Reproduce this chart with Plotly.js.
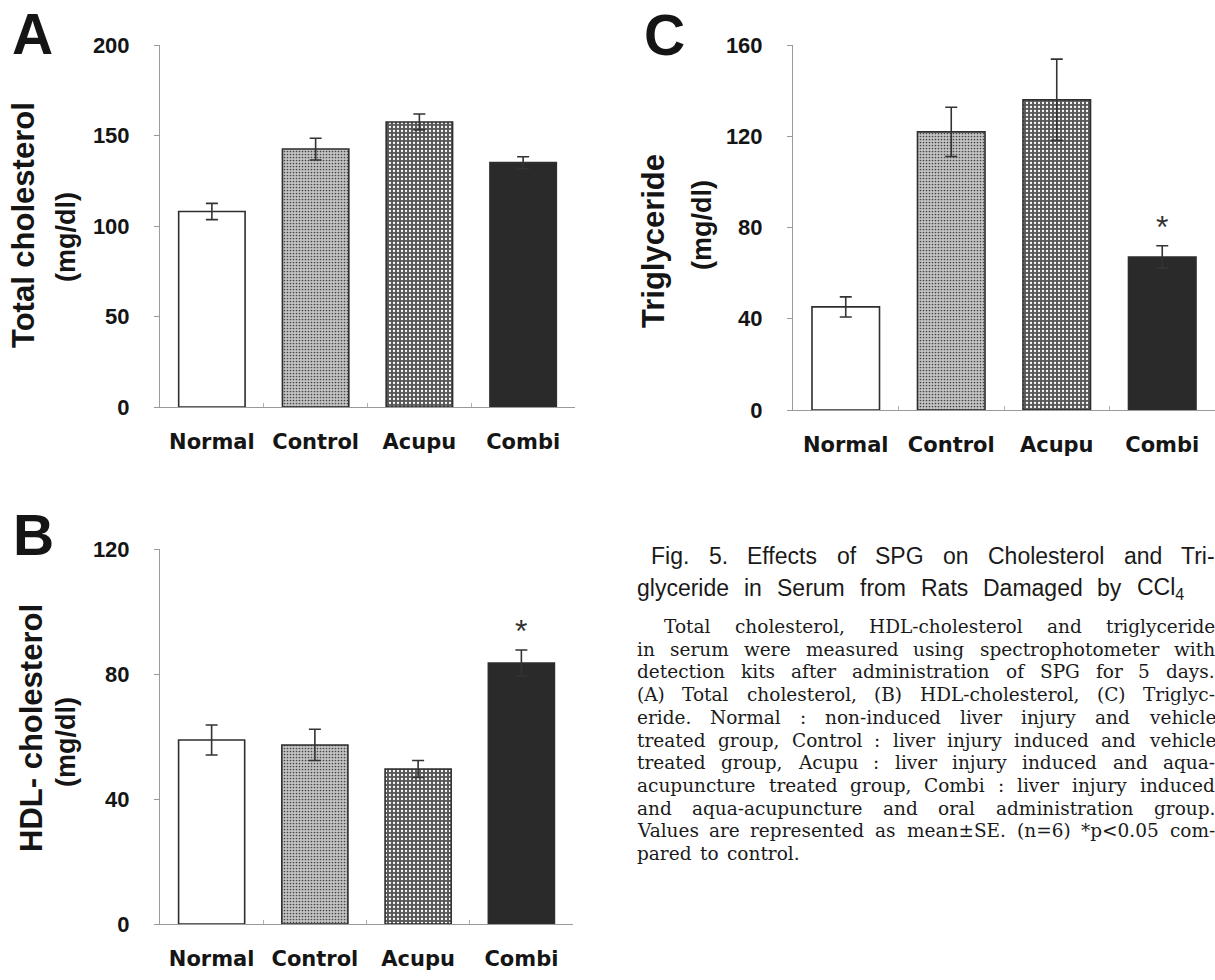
<!DOCTYPE html>
<html><head><meta charset="utf-8">
<script src="https://cdn.plot.ly/plotly-3.0.1.min.js"></script>
<style>html,body{margin:0;padding:0;background:#fff}#chart{width:1215px;height:980px}</style>
</head><body><div id="chart"></div>
<script>
// ---------- data ----------
const groups = ['Normal', 'Control', 'Acupu', 'Combi'];
const totalChol = [108, 142.5, 157.5, 135];
const totalCholErr = [4.5, 6, 4.4, 3.3];
const hdlChol = [58.9, 57.3, 49.6, 83.5];
const hdlCholErr = [4.8, 5, 2.7, 4.2];
const triglyceride = [45.2, 121.9, 136, 67.1];
const triglycerideErr = [4.4, 10.8, 17.8, 4.9];
const sigA = ['', '', '', ''];
const sigB = ['', '', '', '*'];
const sigC = ['', '', '', '*'];
const yTicksA = [0, 50, 100, 150, 200];
const yTicksB = [0, 40, 80, 120];
const yTicksC = [0, 40, 80, 120, 160];
const captionTitle = [
  'Fig. 5. Effects of SPG on Cholesterol and Tri-',
  'glyceride in Serum from Rats Damaged by CCl4'
];
const captionBody = [
  'Total cholesterol, HDL-cholesterol and triglyceride',
  'in serum were measured using spectrophotometer with',
  'detection kits after administration of SPG for 5 days.',
  '(A) Total cholesterol, (B) HDL-cholesterol, (C) Triglyc-',
  'eride. Normal : non-induced liver injury and vehicle',
  'treated group, Control : liver injury induced and vehicle',
  'treated group, Acupu : liver injury induced and aqua-',
  'acupuncture treated group, Combi : liver injury induced',
  'and aqua-acupuncture and oral administration group.',
  'Values are represented as mean\u00b1SE. (n=6) *p<0.05 com-',
  'pared to control.'
];

// ---------- helpers ----------
const W = 1215, H = 980;
const px = v => v / W;
const py = v => 1 - v / H;
const TXT = '#151515';

const style = {
  fills:  ['#ffffff', '#c4c4c4', '#575757', '#2a2a2a'],
  shapes: ['', '.', '.', ''],
  fgs:    ['#ffffff', '#b2b2b2', '#cfcfcf', '#2a2a2a'],
  psize:  [8, 3, 4, 8],
  psol:   [0.3, 0.25, 0.26, 0.3]
};

function barTrace(vals, errs, xa, ya) {
  return {
    type: 'bar', x: groups, y: vals, xaxis: xa, yaxis: ya, width: 0.64,
    marker: {
      color: style.fills,
      line: {color: '#2e2e2e', width: 1.6},
      pattern: {shape: style.shapes, fgcolor: style.fgs, fgopacity: 1,
                size: style.psize, solidity: style.psol, fillmode: 'overlay'}
    },
    error_y: {type: 'data', array: errs, visible: true, color: '#333', thickness: 1.6, width: 6},
    hoverinfo: 'skip', showlegend: false
  };
}

function xAxis(domain, anchor) {
  return {
    domain: domain, anchor: anchor, type: 'category', range: [-0.5, 3.5],
    showline: true, linecolor: '#9a9a9a', linewidth: 1,
    ticks: 'inside', tickson: 'boundaries', ticklen: 4, tickcolor: '#b0b0b0', tickwidth: 1,
    showgrid: false, zeroline: false, fixedrange: true,
    tickfont: {family: 'DejaVu Sans', size: 21, weight: 'bold', color: TXT},
    ticklabelstandoff: 16
  };
}
function yAxis(domain, anchor, range, ticks) {
  return {
    domain: domain, anchor: anchor, range: range, autorange: false,
    tickmode: 'array', tickvals: ticks, ticktext: ticks.map(String),
    showline: true, linecolor: '#9a9a9a', linewidth: 1,
    ticks: 'outside', ticklen: 5, tickcolor: '#9a9a9a', tickwidth: 1,
    showgrid: false, zeroline: false, fixedrange: true,
    tickfont: {family: 'Liberation Sans', size: 22, weight: 'bold', color: TXT},
    ticklabelstandoff: 20
  };
}

const data = [
  barTrace(totalChol, totalCholErr, 'x', 'y'),
  barTrace(hdlChol, hdlCholErr, 'x2', 'y2'),
  barTrace(triglyceride, triglycerideErr, 'x3', 'y3')
];

const annotations = [];
function label(text, x, y, size, opts) {
  annotations.push(Object.assign({
    xref: 'paper', yref: 'paper', x: px(x), y: py(y), text: text, showarrow: false,
    xanchor: 'center', yanchor: 'middle', borderpad: 0,
    font: {family: 'Liberation Sans', size: size, weight: 'bold', color: TXT}
  }, opts || {}));
}
// panel letters
label('A', 32, 34, 57);
label('B', 33, 535, 57);
label('C', 664, 35, 57);
// y titles
label('Total cholesterol', 24, 225, 31, {textangle: -90});
label('(mg/dl)', 66, 237, 27, {textangle: -90});
label('HDL- cholesterol', 31, 728, 31, {textangle: -90});
label('(mg/dl)', 66, 742, 27, {textangle: -90});
label('Triglyceride', 654, 241, 31, {textangle: -90});
label('(mg/dl)', 702, 225, 27, {textangle: -90});

// significance stars
function stars(sig, vals, errs, xr, yr) {
  sig.forEach((s, i) => {
    if (!s) return;
    annotations.push({xref: xr, yref: yr, x: groups[i], y: vals[i] + errs[i], text: s,
      showarrow: false, xanchor: 'center', yanchor: 'bottom', yshift: 0, borderpad: 0,
      font: {family: 'Liberation Sans', size: 32, color: '#333'}});
  });
}
stars(sigA, totalChol, totalCholErr, 'x', 'y');
stars(sigB, hdlChol, hdlCholErr, 'x2', 'y2');
stars(sigC, triglyceride, triglycerideErr, 'x3', 'y3');

// caption, word by word, justified
const ctx = document.createElement('canvas').getContext('2d');
function measure(t, family, size) {
  ctx.font = size + 'px "' + family + '"';
  if (t === 'CCl4') { return ctx.measureText('CCl').width + 0.7 * ctx.measureText('4').width; }
  return ctx.measureText(t).width;
}
function display(w) {
  if (w === 'CCl4') return 'CCl<sub>4</sub>';
  return w.replace(/&/g, '&amp;').replace(/</g, '&lt;').replace(/>/g, '&gt;');
}
function placeLine(text, left, right, baseline, family, size, justify, color) {
  const words = text.split(' ');
  let s = size, widths, total, gap;
  const calc = () => {
    widths = words.map(w => measure(w, family, s));
    total = widths.reduce((a, b) => a + b, 0);
    gap = (justify && words.length > 1) ? (right - left - total) / (words.length - 1)
                                        : measure(' ', family, s) * 1.4;
  };
  calc();
  while (justify && gap < 0.2 * s && s > 10) { s -= 0.5; calc(); }
  let x = left;
  words.forEach((w, i) => {
    annotations.push({xref: 'paper', yref: 'paper', x: px(x), y: py(baseline - 0.3465 * s),
      xanchor: 'left', yanchor: 'middle', text: display(w), showarrow: false, borderpad: 0,
      font: {family: family, size: s, color: color}});
    x += widths[i] + gap;
  });
}
placeLine(captionTitle[0], 650, 1214, 564, 'Liberation Sans', 23, true, '#1a1a1a');
placeLine(captionTitle[1], 636, 1183, 596, 'Liberation Sans', 23, true, '#1a1a1a');
captionBody.forEach((line, i) => {
  const left = i === 0 ? 663 : 636;
  const last = i === captionBody.length - 1;
  placeLine(line, left, 1214, 633 + i * 22.7, 'DejaVu Serif', 18.5, !last, '#1a1a1a');
});

const layout = {
  width: W, height: H, margin: {l: 0, r: 0, t: 0, b: 0},
  paper_bgcolor: '#ffffff', plot_bgcolor: 'rgba(0,0,0,0)',
  showlegend: false, bargap: 0.36,
  xaxis:  xAxis([px(160), px(575)], 'y'),
  yaxis:  yAxis([py(407), py(45)], 'x', [0, 200], yTicksA),
  xaxis2: xAxis([px(160), px(573)], 'y2'),
  yaxis2: yAxis([py(924), py(549)], 'x2', [0, 120], yTicksB),
  xaxis3: xAxis([px(793), 1], 'y3'),
  yaxis3: yAxis([py(410), py(45)], 'x3', [0, 160], yTicksC),
  annotations: annotations
};

Plotly.newPlot('chart', data, layout, {staticPlot: true, displayModeBar: false});
</script>
</body></html>
